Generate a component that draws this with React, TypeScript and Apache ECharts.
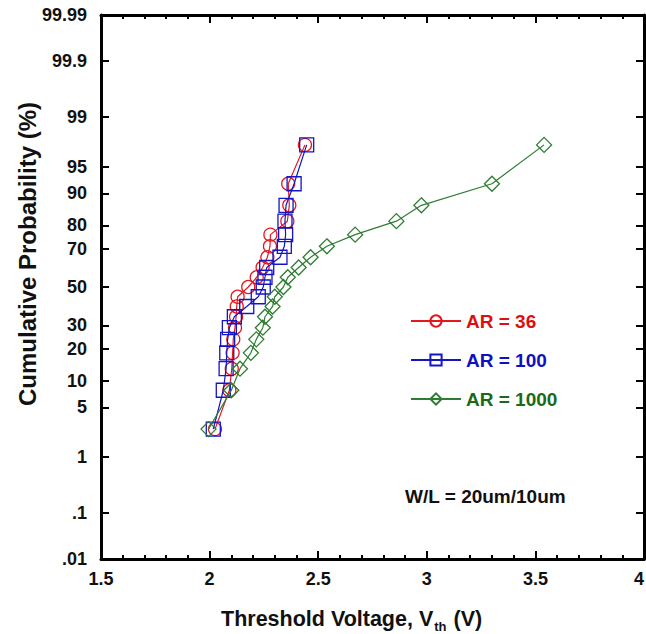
import React, { useEffect, useRef } from "react";
import * as echarts from "echarts";

// Cumulative probability plotting positions (%), shared by all three samples
const probabilities = [2.6, 7.9, 13.2, 18.4, 23.7, 28.9, 34.2, 39.5, 44.7, 50.0, 55.3, 60.5, 65.8, 71.1, 76.3, 81.6, 86.8, 92.1, 97.4];
// Threshold voltages (V)
const vthAR36 = [2.025, 2.091, 2.102, 2.106, 2.109, 2.117, 2.122, 2.125, 2.129, 2.178, 2.217, 2.244, 2.266, 2.278, 2.280, 2.358, 2.367, 2.362, 2.439];
const vthAR100 = [2.017, 2.063, 2.076, 2.079, 2.083, 2.091, 2.114, 2.171, 2.224, 2.247, 2.255, 2.263, 2.324, 2.344, 2.350, 2.347, 2.352, 2.389, 2.447];
const vthAR1000 = [1.995, 2.10, 2.14, 2.19, 2.215, 2.245, 2.255, 2.29, 2.30, 2.34, 2.36, 2.41, 2.465, 2.54, 2.67, 2.86, 2.975, 3.30, 3.54];

const seriesNames = ["AR = 36", "AR = 100", "AR = 1000"];
const tickProbs = [0.01, 0.1, 1, 5, 10, 20, 30, 50, 70, 80, 90, 95, 99, 99.9, 99.99];
const tickLabels = [".01", ".1", "1", "5", "10", "20", "30", "50", "70", "80", "90", "95", "99", "99.9", "99.99"];

function probit(p: number): number {
  const a = [-3.969683028665376e1, 2.209460984245205e2, -2.759285104469687e2, 1.38357751867269e2, -3.066479806614716e1, 2.506628277459239];
  const b = [-5.447609879822406e1, 1.615858368580409e2, -1.556989798598866e2, 6.680131188771972e1, -1.328068155288572e1];
  const c = [-7.784894002430293e-3, -3.223964580411365e-1, -2.400758277161838, -2.549732539343734, 4.374664141464968, 2.938163982698783];
  const d = [7.784695709041462e-3, 3.224671290700398e-1, 2.445134137142996, 3.754408661907416];
  const plow = 0.02425;
  const phigh = 1 - plow;
  if (p < plow) {
    const q = Math.sqrt(-2 * Math.log(p));
    return (((((c[0] * q + c[1]) * q + c[2]) * q + c[3]) * q + c[4]) * q + c[5]) / ((((d[0] * q + d[1]) * q + d[2]) * q + d[3]) * q + 1);
  }
  if (p <= phigh) {
    const q = p - 0.5;
    const r = q * q;
    return ((((((a[0] * r + a[1]) * r + a[2]) * r + a[3]) * r + a[4]) * r + a[5]) * q) / (((((b[0] * r + b[1]) * r + b[2]) * r + b[3]) * r + b[4]) * r + 1);
  }
  const q = Math.sqrt(-2 * Math.log(1 - p));
  return -(((((c[0] * q + c[1]) * q + c[2]) * q + c[3]) * q + c[4]) * q + c[5]) / ((((d[0] * q + d[1]) * q + d[2]) * q + d[3]) * q + 1);
}

const z = (pct: number) => probit(pct / 100);
const tickZ = tickProbs.map(z);
const yMin = tickZ[0];
const yMax = tickZ[tickZ.length - 1];

const FONT = "'Liberation Sans', Arial, Helvetica, sans-serif";
const colors = ["#e3181e", "#1515c8", "#2e7d32"];
const textColors = ["#dc1010", "#1010c0", "#1a6a1a"];
const symbols = ["circle", "rect", "diamond"];
const symbolSizes = [13, 14, 15];

export default function App() {
  const ref = useRef<HTMLDivElement>(null);
  useEffect(() => {
    if (!ref.current) return;
    const chart = echarts.init(ref.current, undefined, { renderer: "svg" });
    const all = [vthAR36, vthAR100, vthAR1000];
    const labelFor = (v: number) => {
      let best = 0;
      let bd = Infinity;
      tickZ.forEach((t, i) => {
        const dd = Math.abs(t - v);
        if (dd < bd) { bd = dd; best = i; }
      });
      return bd < 1e-6 ? tickLabels[best] : "";
    };
    const axisLine = { show: true, onZero: false, lineStyle: { color: "#000", width: 3 } };
    chart.setOption({
      animation: false,
      backgroundColor: "#fff",
      grid: { left: 101, right: 2, top: 15, bottom: 75, containLabel: false, outerBoundsMode: "none" },
      xAxis: [
        {
          type: "value", position: "bottom", min: 1.5, max: 4, interval: 0.5,
          axisLine,
          axisTick: { show: true, inside: true, length: 8, lineStyle: { color: "#000", width: 2 } },
          minorTick: { show: true, splitNumber: 5, length: 4, lineStyle: { color: "#000", width: 2 } },
          axisLabel: {
            show: true, margin: 11, color: "#111", fontSize: 18, fontWeight: "bold", fontFamily: FONT,
            showMaxLabel: true, showMinLabel: true, alignMaxLabel: "right",
          },
          splitLine: { show: false },
        },
        {
          type: "value", position: "top", min: 1.5, max: 4, interval: 0.5,
          axisLine,
          axisTick: { show: true, inside: true, length: 8, lineStyle: { color: "#000", width: 2 } },
          minorTick: { show: true, splitNumber: 5, length: 4, lineStyle: { color: "#000", width: 2 } },
          axisLabel: { show: false },
          splitLine: { show: false },
        },
      ],
      yAxis: [
        {
          type: "value", position: "left", min: yMin, max: yMax,
          axisLine,
          axisTick: { show: true, inside: true, length: 8, customValues: tickZ, lineStyle: { color: "#000", width: 2 } },
          axisLabel: {
            show: true, margin: 14, customValues: tickZ, formatter: (v: number) => labelFor(v),
            color: "#111", fontSize: 18, fontWeight: "bold", fontFamily: FONT,
          },
          splitLine: { show: false },
        },
        {
          type: "value", position: "right", min: yMin, max: yMax,
          axisLine,
          axisTick: { show: true, inside: true, length: 8, customValues: tickZ, lineStyle: { color: "#000", width: 2 } },
          axisLabel: { show: false },
          splitLine: { show: false },
        },
      ],
      legend: {
        orient: "vertical", left: 410, top: 311, padding: 0, itemWidth: 50, itemHeight: 14, itemGap: 19,
        textStyle: { fontSize: 19, fontWeight: "bold", fontFamily: FONT, lineHeight: 20 },
        data: seriesNames.map((n, i) => ({ name: n, textStyle: { color: textColors[i] } })),
      },
      series: seriesNames.map((name, i) => ({
        name, type: "line", xAxisIndex: 0, yAxisIndex: 0,
        data: all[i].map((v, k) => [v, z(probabilities[k])]),
        symbol: symbols[i], symbolSize: symbolSizes[i], showSymbol: true,
        lineStyle: { color: colors[i], width: 1.2 },
        itemStyle: { color: "rgba(255,255,255,0)", borderColor: colors[i], borderWidth: 1.3 },
        emphasis: { disabled: true },
        z: 3 + i,
      })),
      graphic: [
        {
          type: "text", x: 27, y: 254, rotation: Math.PI / 2,
          style: { text: "Cumulative Probability (%)", fill: "#111", font: `bold 24px ${FONT}`, align: "center", verticalAlign: "middle" },
        },
        {
          type: "text", x: 221, y: 605,
          style: {
            text: "Threshold Voltage, V{sub|th} (V)", fill: "#111", font: `bold 21.5px ${FONT}`,
            rich: { sub: { fontSize: 13, fontWeight: "bold", fontFamily: FONT, fill: "#111", padding: [15, 1, 0, 1], verticalAlign: "top" } },
          },
        },
        {
          type: "text", x: 405, y: 496,
          style: { text: "W/L = 20um/10um", fill: "#111", font: `bold 19px ${FONT}`, verticalAlign: "middle" },
        },
      ],
    });
    return () => chart.dispose();
  }, []);
  return <div ref={ref} style={{ position: "absolute", left: 0, top: 0, width: 646, height: 634 }} />;
}
